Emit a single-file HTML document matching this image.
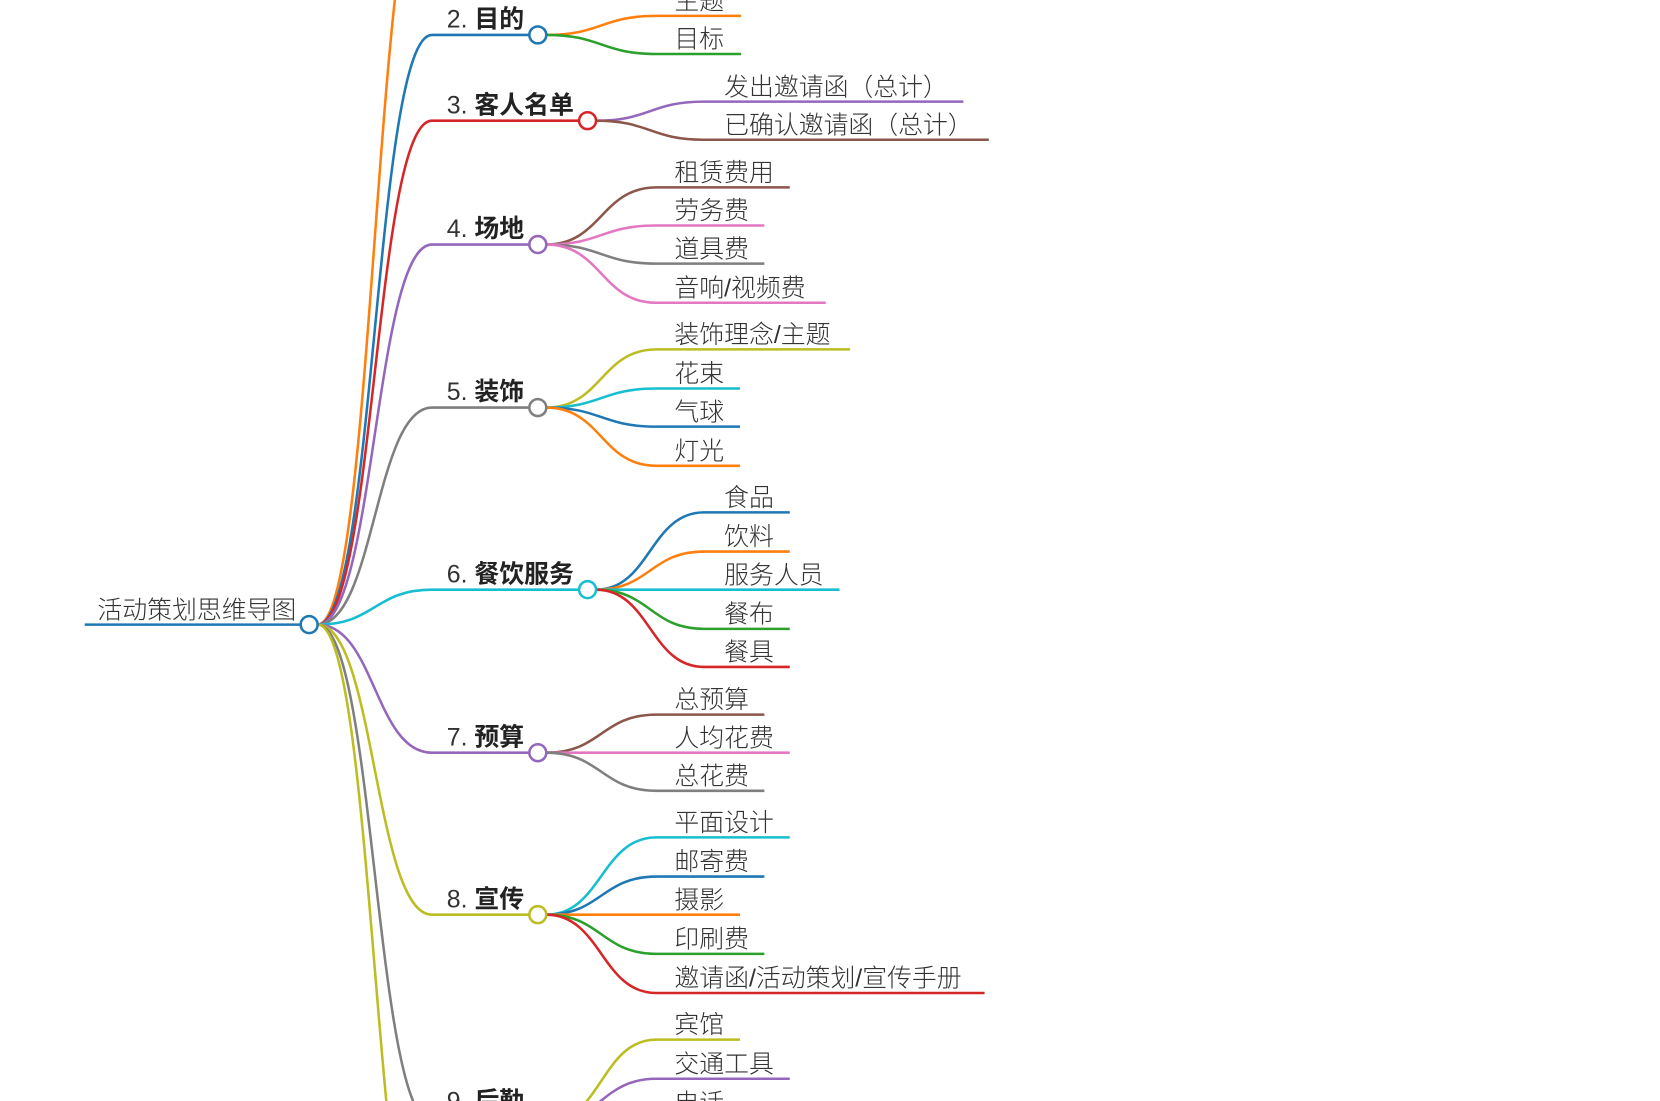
<!DOCTYPE html>
<html><head><meta charset="utf-8"><style>
html,body{margin:0;padding:0;background:#fff;overflow:hidden;width:1660px;height:1101px}
svg{display:block}
text{font-family:"Liberation Sans","Noto Sans CJK SC",sans-serif;font-size:23.5px;fill:#333;font-weight:300}
.b{font-weight:700;fill:#222}
path{fill:none;stroke-width:2.4}
circle{fill:#fff;stroke-width:2.4}
</style></head><body>
<svg width="1660" height="1101" viewBox="0 0 1568 1040" xmlns="http://www.w3.org/2000/svg">
<path d="M80,590 H284" stroke="#1f77b4" stroke-width="3"/>
<text x="92" y="584">活动策划思维导图</text>

<path d="M300,590 C354,590 354,-140 408,-140" stroke="#ff7f0e"/>
<path d="M300,590 C354,590 354,33 408,33 H500" stroke="#1f77b4"/>
<path d="M300,590 C354,590 354,114 408,114 H547" stroke="#d62728"/>
<path d="M300,590 C354,590 354,231 408,231 H500" stroke="#9467bd"/>
<path d="M300,590 C354,590 354,385 408,385 H500" stroke="#7f7f7f"/>
<path d="M300,590 C354,590 354,557 408,557 H547" stroke="#17becf"/>
<path d="M300,590 C354,590 354,711 408,711 H500" stroke="#9467bd"/>
<path d="M300,590 C354,590 354,864 408,864 H500" stroke="#bcbd22"/>
<path d="M300,590 C354,590 354,1060 408,1060 H500" stroke="#7f7f7f"/>
<path d="M300,590 C354,590 354,1240 408,1240" stroke="#bcbd22"/>

<text x="422" y="26">2. <tspan class="b">目的</tspan></text>
<text x="422" y="107">3. <tspan class="b">客人名单</tspan></text>
<text x="422" y="224">4. <tspan class="b">场地</tspan></text>
<text x="422" y="378">5. <tspan class="b">装饰</tspan></text>
<text x="422" y="550">6. <tspan class="b">餐饮服务</tspan></text>
<text x="422" y="704">7. <tspan class="b">预算</tspan></text>
<text x="422" y="857">8. <tspan class="b">宣传</tspan></text>
<text x="422" y="1048">9. <tspan class="b">后勤</tspan></text>

<path d="M516,33 C568,33 568,15 620,15 H700" stroke="#ff7f0e"/>
<path d="M516,33 C568,33 568,51 620,51 H700" stroke="#2ca02c"/>
<text x="637" y="9">主题</text>
<text x="637" y="45">目标</text>

<path d="M563,114 C614,114 614,96 665,96 H910" stroke="#9467bd"/>
<path d="M563,114 C614,114 614,132 665,132 H934" stroke="#8c564b"/>
<text x="684" y="90">发出邀请函（总计）</text>
<text x="684" y="126">已确认邀请函（总计）</text>

<path d="M516,231 C568,231 568,177 620,177 H746" stroke="#8c564b"/>
<path d="M516,231 C568,231 568,213 620,213 H722" stroke="#e377c2"/>
<path d="M516,231 C568,231 568,249 620,249 H722" stroke="#7f7f7f"/>
<path d="M516,231 C568,231 568,286 620,286 H780" stroke="#e377c2"/>
<text x="637" y="171">租赁费用</text>
<text x="637" y="207">劳务费</text>
<text x="637" y="243">道具费</text>
<text x="637" y="280">音响/视频费</text>

<path d="M516,385 C568,385 568,330 620,330 H803" stroke="#bcbd22"/>
<path d="M516,385 C568,385 568,367 620,367 H699" stroke="#17becf"/>
<path d="M516,385 C568,385 568,403 620,403 H699" stroke="#1f77b4"/>
<path d="M516,385 C568,385 568,440 620,440 H699" stroke="#ff7f0e"/>
<text x="637" y="324">装饰理念/主题</text>
<text x="637" y="361">花束</text>
<text x="637" y="397">气球</text>
<text x="637" y="434">灯光</text>

<path d="M563,557 C614,557 614,484 665,484 H746" stroke="#1f77b4"/>
<path d="M563,557 C614,557 614,521 665,521 H746" stroke="#ff7f0e"/>
<path d="M563,557 H793" stroke="#17becf"/>
<path d="M563,557 C614,557 614,594 665,594 H746" stroke="#2ca02c"/>
<path d="M563,557 C614,557 614,630 665,630 H746" stroke="#d62728"/>
<text x="684" y="478">食品</text>
<text x="684" y="515">饮料</text>
<text x="684" y="551">服务人员</text>
<text x="684" y="588">餐布</text>
<text x="684" y="624">餐具</text>

<path d="M516,711 C568,711 568,675 620,675 H722" stroke="#8c564b"/>
<path d="M516,711 H746" stroke="#e377c2"/>
<path d="M516,711 C568,711 568,747 620,747 H722" stroke="#7f7f7f"/>
<text x="637" y="669">总预算</text>
<text x="637" y="705">人均花费</text>
<text x="637" y="741">总花费</text>

<path d="M516,864 C568,864 568,791 620,791 H746" stroke="#17becf"/>
<path d="M516,864 C568,864 568,828 620,828 H722" stroke="#1f77b4"/>
<path d="M516,864 H699" stroke="#ff7f0e"/>
<path d="M516,864 C568,864 568,901 620,901 H722" stroke="#2ca02c"/>
<path d="M516,864 C568,864 568,938 620,938 H930" stroke="#d62728"/>
<text x="637" y="785">平面设计</text>
<text x="637" y="822">邮寄费</text>
<text x="637" y="858">摄影</text>
<text x="637" y="895">印刷费</text>
<text x="637" y="932">邀请函/活动策划/宣传手册</text>

<path d="M516,1060 C568,1060 568,982 620,982 H699" stroke="#bcbd22"/>
<path d="M516,1060 C568,1060 568,1019 620,1019 H746" stroke="#9467bd"/>
<path d="M516,1060 C568,1060 568,1056 620,1056 H722" stroke="#8c564b"/>
<text x="637" y="976">宾馆</text>
<text x="637" y="1013">交通工具</text>
<text x="637" y="1050">电话</text>

<circle cx="292" cy="590" r="8" stroke="#1f77b4"/>
<circle cx="508" cy="33" r="8" stroke="#1f77b4"/>
<circle cx="555" cy="114" r="8" stroke="#d62728"/>
<circle cx="508" cy="231" r="8" stroke="#9467bd"/>
<circle cx="508" cy="385" r="8" stroke="#7f7f7f"/>
<circle cx="555" cy="557" r="8" stroke="#17becf"/>
<circle cx="508" cy="711" r="8" stroke="#9467bd"/>
<circle cx="508" cy="864" r="8" stroke="#bcbd22"/>
<circle cx="508" cy="1060" r="8" stroke="#7f7f7f"/>
</svg>
</body></html>
